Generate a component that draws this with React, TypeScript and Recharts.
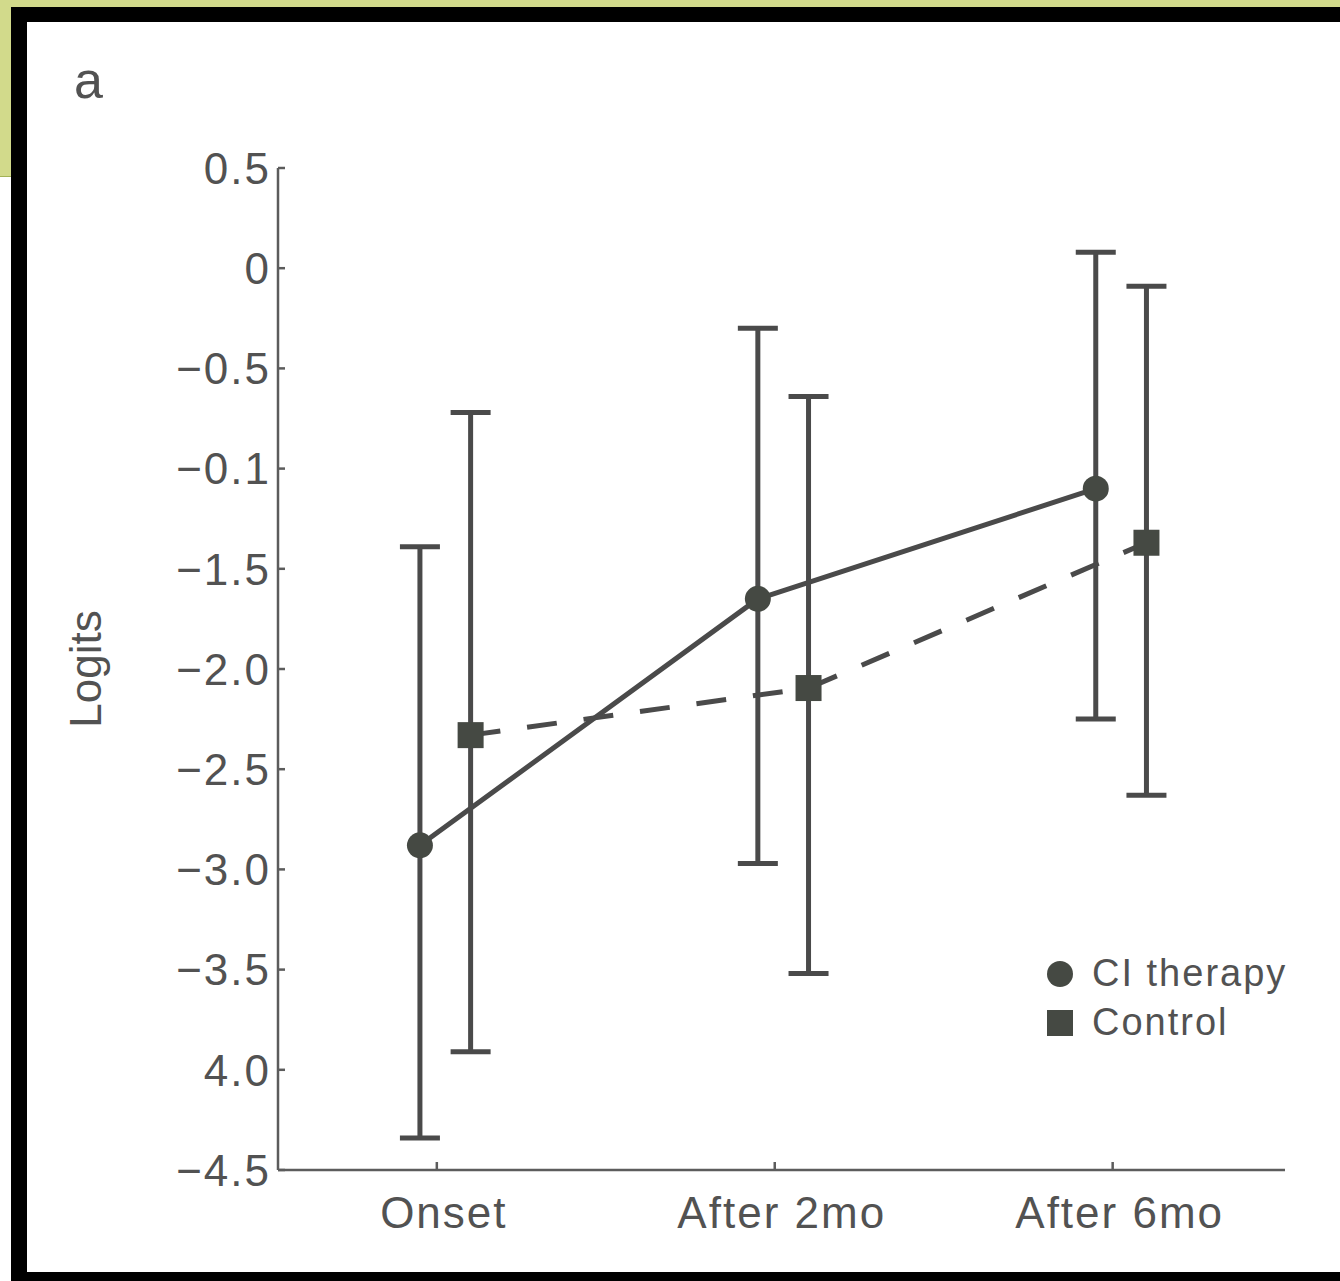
import { ComposedChart, Line, XAxis, YAxis, ErrorBar, Legend } from 'recharts';

// time points
const categories = ['Onset', 'After 2mo', 'After 6mo'];

// CI therapy group (mean logits and error bar ends)
const ciMean = [-2.88, -1.65, -1.1];
const ciUpper = [-1.39, -0.3, 0.08];
const ciLower = [-4.34, -2.97, -2.25];

// control group
const controlMean = [-2.33, -2.095, -1.37];
const controlUpper = [-0.72, -0.64, -0.09];
const controlLower = [-3.91, -3.52, -2.63];

// y ticks, with the labels as printed in the figure
const yTicks = [0.5, 0, -0.5, -1, -1.5, -2, -2.5, -3, -3.5, -4, -4.5];
const yTickLabels = ['0.5', '0', '−0.5', '−0.1', '−1.5', '−2.0', '−2.5', '−3.0', '−3.5', '4.0', '−4.5'];

const INK = '#4a4a4a';
const MARK = '#454943';
const TEXT = '#525252';
const AXIS = '#5c5c5c';
const FONT = '"Liberation Sans", Arial, Helvetica, sans-serif';

// groups are drawn slightly left / right of each time point
const toRows = (mean: number[], upper: number[], lower: number[], shift: number) =>
  mean.map((m, i) => ({ x: i + 1 + shift, y: m, err: [m - lower[i], upper[i] - m] }));

const ciRows = toRows(ciMean, ciUpper, ciLower, -0.05);
const controlRows = toRows(controlMean, controlUpper, controlLower, 0.1);

const CircleDot = ({ cx, cy }: any) =>
  cx == null ? null : <circle cx={cx} cy={cy} r={13} fill={MARK} />;

const SquareDot = ({ cx, cy }: any) =>
  cx == null ? null : <rect x={cx - 13} y={cy - 13} width={26} height={26} fill={MARK} />;

const XTick = ({ x, y, payload }: any) => (
  <text
    x={x + 7}
    y={y}
    dy="0.71em"
    textAnchor="middle"
    fill={TEXT}
    fontSize={44}
    fontFamily={FONT}
    style={{ letterSpacing: 2 }}
  >
    {categories[payload.value - 1]}
  </text>
);

const YTick = ({ x, y, payload }: any) => (
  <text
    x={x}
    y={y}
    dy="0.36em"
    textAnchor="end"
    fill={TEXT}
    fontSize={44}
    fontFamily={FONT}
    style={{ letterSpacing: 2 }}
  >
    {yTickLabels[yTicks.indexOf(payload.value)]}
  </text>
);

const LogitsLabel = ({ viewBox }: any) => {
  const cy = viewBox ? viewBox.y + viewBox.height / 2 : 670;
  return (
    <text
      transform={`translate(101, ${cy}) rotate(-90)`}
      textAnchor="middle"
      fill={TEXT}
      fontSize={44}
      fontFamily={FONT}
    >
      Logits
    </text>
  );
};

const LegendBox = ({ payload }: any) => (
  <div>
    {(payload || []).map((entry: any) => (
      <div
        key={entry.value}
        style={{
          display: 'flex',
          alignItems: 'center',
          height: 49,
          fontFamily: FONT,
          fontSize: 38,
          color: TEXT,
          letterSpacing: 2,
        }}
      >
        <svg width={30} height={30} style={{ marginRight: 17 }}>
          {entry.type === 'circle' ? (
            <circle cx={15} cy={15} r={13} fill={MARK} />
          ) : (
            <rect x={2} y={2} width={26} height={26} fill={MARK} />
          )}
        </svg>
        <span>{entry.value}</span>
      </div>
    ))}
  </div>
);

export default function App() {
  return (
    <div style={{ position: 'absolute', left: 0, top: 0, width: 1340, height: 1281, background: '#fff', overflow: 'hidden' }}>
      {/* scan frame */}
      <div style={{ position: 'absolute', left: 0, top: 0, width: 1340, height: 7, background: '#d2da8b' }} />
      <div style={{ position: 'absolute', left: 0, top: 0, width: 11, height: 176, background: '#d2da8b', borderBottom: '1px solid #a3b257' }} />
      <div style={{ position: 'absolute', left: 11, top: 7, width: 1329, height: 15, background: '#000' }} />
      <div style={{ position: 'absolute', left: 11, top: 7, width: 16, height: 1274, background: '#000' }} />
      <div style={{ position: 'absolute', left: 11, top: 1272, width: 1329, height: 9, background: '#000' }} />

      <svg style={{ position: 'absolute', left: 0, top: 0 }} width={200} height={120}>
        <text x={74} y={98} fontSize={52} fontFamily={FONT} fill={TEXT}>
          a
        </text>
      </svg>

      <div style={{ position: 'absolute', left: 0, top: 0 }}>
        <ComposedChart width={1340} height={1281} margin={{ top: 168, right: 55, bottom: 0, left: 0 }}>
          <XAxis
            type="number"
            dataKey="x"
            domain={[0.53, 3.51]}
            ticks={[1, 2, 3]}
            allowDataOverflow
            height={111}
            tickSize={-8}
            tickMargin={35}
            tick={<XTick />}
            axisLine={{ stroke: AXIS, strokeWidth: 2.5 }}
            tickLine={{ stroke: AXIS, strokeWidth: 2.5 }}
          />
          <YAxis
            type="number"
            domain={[-4.5, 0.5]}
            ticks={yTicks}
            allowDataOverflow
            width={278}
            tickSize={-7}
            tickMargin={14}
            tick={<YTick />}
            axisLine={{ stroke: AXIS, strokeWidth: 2.5 }}
            tickLine={{ stroke: AXIS, strokeWidth: 2.5 }}
            label={<LogitsLabel />}
          />
          <Legend
            layout="horizontal"
            verticalAlign="middle"
            align="center"
            wrapperStyle={{ left: 1045, top: 949, width: 290 }}
            content={<LegendBox />}
          />
          <Line
            data={ciRows}
            dataKey="y"
            name="CI therapy"
            legendType="circle"
            stroke={INK}
            strokeWidth={5}
            dot={<CircleDot />}
            activeDot={false}
            isAnimationActive={false}
          >
            <ErrorBar dataKey="err" direction="y" width={20} stroke={INK} strokeWidth={5} isAnimationActive={false} />
          </Line>
          <Line
            data={controlRows}
            dataKey="y"
            name="Control"
            legendType="square"
            stroke={INK}
            strokeWidth={5}
            strokeDasharray="30 27"
            dot={<SquareDot />}
            activeDot={false}
            isAnimationActive={false}
          >
            <ErrorBar dataKey="err" direction="y" width={20} stroke={INK} strokeWidth={5} isAnimationActive={false} />
          </Line>
        </ComposedChart>
      </div>
    </div>
  );
}
